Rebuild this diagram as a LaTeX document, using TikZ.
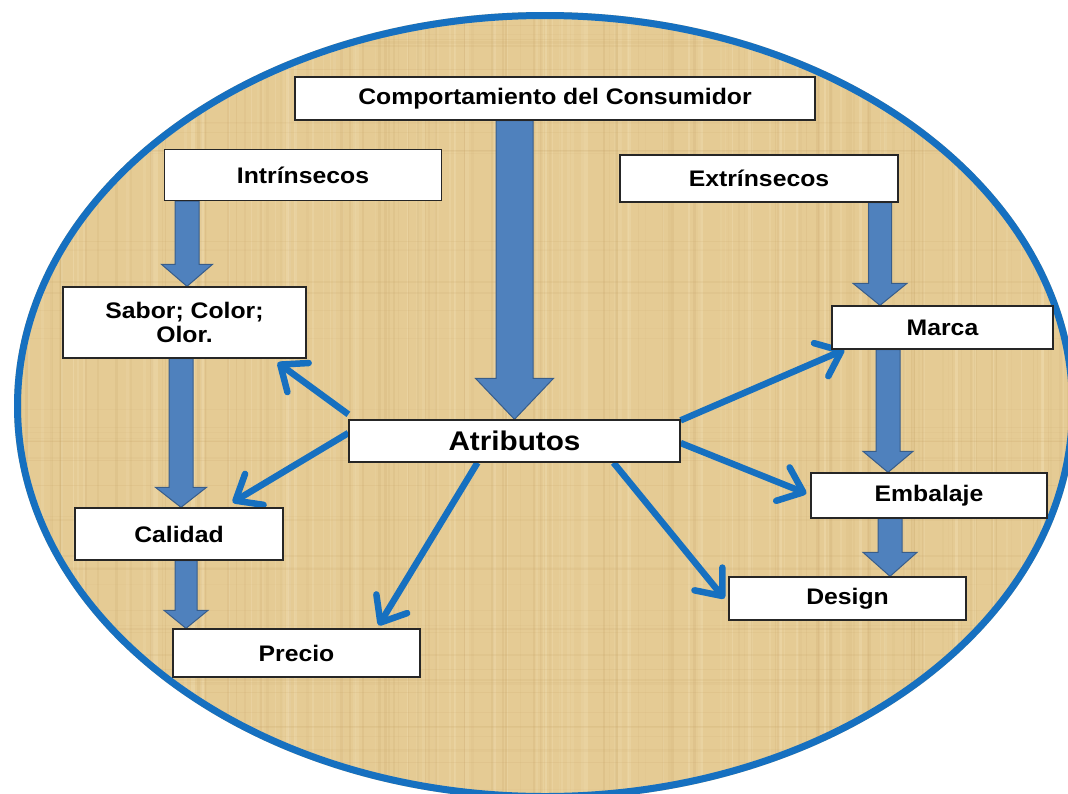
\documentclass[tikz,border=0pt]{standalone}
\usepackage{fontspec}
\setmainfont{Liberation Sans}[FakeStretch=1.1]
\usetikzlibrary{arrows.meta,calc}
\pgfdeclarelayer{back}
\pgfsetlayers{back,main}
\definecolor{papyrus}{RGB}{229,203,148}
\definecolor{papdark}{RGB}{196,160,100}
\definecolor{paplight}{RGB}{244,228,188}
\definecolor{ringblue}{RGB}{22,112,192}
\definecolor{fatfill}{RGB}{79,129,189}
\definecolor{fatedge}{RGB}{56,93,138}
\tikzset{
  box/.style={draw=black!85, line width=1.3pt, fill=white, inner sep=0pt, align=center,
    font=\bfseries\fontsize{22.5}{24}\selectfont},
  thinarrow/.style={draw=ringblue, line width=6.5pt, line cap=butt,
    -{Straight Barb[length=22pt,width=36pt,round]}},
  fat/.style={fill=fatfill, draw=fatedge, line width=1pt, line join=miter},
}
\newcommand\fatarrow[6]{% x, from anchor, to anchor, shaft half, head half, head length
  \filldraw[fat] let \p1=(#1,0 |- #2), \p2=(#1,0 |- #3) in
    (\x1-#4,\y1) -- (\x1+#4,\y1) -- (\x1+#4,\y2+#6) -- (\x1+#5,\y2+#6) -- (\x2,\y2)
    -- (\x1-#5,\y2+#6) -- (\x1-#4,\y2+#6) -- cycle;}
\begin{document}
\begin{tikzpicture}[x=1pt,y=-1pt]
\useasboundingbox (0,0) rectangle (1068,793);
\clip (0,0) rectangle (1068,793);
\begin{pgfonlayer}{back}
  \fill[white] (0,0) rectangle (1068,793);
  \begin{scope}
    \clip (545,406) ellipse [x radius=531pt, y radius=394pt];
    \fill[papyrus] (0,0) rectangle (1100,820);
    \pgfmathsetseed{12}
    \foreach \i in {1,...,110}{
      \pgfmathsetmacro\xx{10+rnd*1070}
      \pgfmathsetmacro\ww{0.6+2.6*rnd}
      \pgfmathsetmacro\oo{0.05+0.14*rnd}
      \draw[papdark, line width=\ww pt, opacity=\oo] (\xx,0) -- (\xx,820);
    }
    \foreach \i in {1,...,90}{
      \pgfmathsetmacro\xx{10+rnd*1070}
      \pgfmathsetmacro\ww{0.6+3*rnd}
      \pgfmathsetmacro\oo{0.10+0.25*rnd}
      \draw[paplight, line width=\ww pt, opacity=\oo] (\xx,0) -- (\xx,820);
    }
    \foreach \i in {1,...,60}{
      \pgfmathsetmacro\yy{rnd*820}
      \pgfmathsetmacro\ww{0.5+1.5*rnd}
      \pgfmathsetmacro\oo{0.05+0.10*rnd}
      \draw[papdark, line width=\ww pt, opacity=\oo] (0,\yy) -- (1100,\yy);
    }
  \end{scope}
  \draw[ringblue, line width=7pt] (545,406) ellipse [x radius=527.5pt, y radius=390.5pt];
\end{pgfonlayer}

\node[box, minimum width=520pt, minimum height=43pt] (comp) at (555,98.5) {Comportamiento del Consumidor};
\node[box, minimum width=277pt, minimum height=51pt] (intr) at (303,175) {Intrínsecos};
\node[box, minimum width=278pt, minimum height=47pt] (extr) at (759,178.5) {Extrínsecos};
\node[box, minimum width=243pt, minimum height=71pt] (sab) at (184.5,322.5) {Sabor; Color;\\Olor.};
\node[box, minimum width=221pt, minimum height=43pt] (mar) at (942.5,327.5) {Marca};
\node[box, minimum width=331pt, minimum height=42pt, font=\bfseries\fontsize{27}{30}\selectfont] (atr) at (514.5,441) {Atributos};
\node[box, minimum width=236pt, minimum height=45pt] (emb) at (929,495.5) {Embalaje};
\node[box, minimum width=208pt, minimum height=52pt] (cal) at (179,534) {Calidad};
\node[box, minimum width=237pt, minimum height=43pt] (des) at (847.5,598.5) {Design};
\node[box, minimum width=247pt, minimum height=48pt] (pre) at (296.5,653) {Precio};

\begin{pgfonlayer}{back}
  \fatarrow{514.5}{comp.south}{atr.north}{18.5pt}{39pt}{41pt}
  \fatarrow{187}{intr.south}{sab.north}{12pt}{25.5pt}{22pt}
  \fatarrow{181}{sab.south}{cal.north}{12pt}{25.5pt}{20pt}
  \fatarrow{186}{cal.south}{pre.north}{11pt}{22pt}{18pt}
  \fatarrow{880}{extr.south}{mar.north}{11.5pt}{27pt}{22pt}
  \fatarrow{888}{mar.south}{emb.north}{12pt}{25pt}{21pt}
  \fatarrow{890}{emb.south}{des.north}{12pt}{27pt}{24pt}

  \draw[thinarrow] ([yshift=5pt]atr.north west) -- ([xshift=-29pt,yshift=-4pt]sab.south east);
  \draw[thinarrow] ([yshift=8pt]atr.west) -- ([xshift=-51pt,yshift=5pt]cal.north east);
  \draw[thinarrow] ([xshift=-37pt]atr.south) -- ([xshift=-42pt,yshift=3pt]pre.north east);
  \draw[thinarrow] ([xshift=99pt]atr.south) -- ([xshift=-4pt]des.west);
  \draw[thinarrow] ([yshift=-2pt]atr.east) -- ([xshift=-4pt,yshift=2pt]emb.west);
  \draw[thinarrow] ([yshift=-1pt]atr.north east) -- ([xshift=13pt]mar.south west);
\end{pgfonlayer}
\end{tikzpicture}
\end{document}
